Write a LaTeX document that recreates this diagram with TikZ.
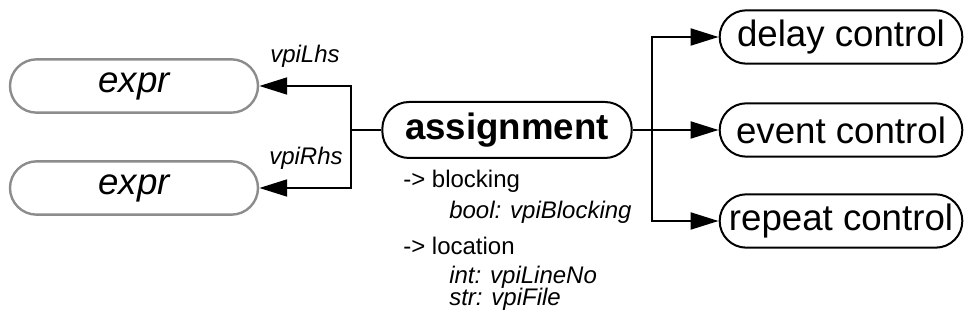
\documentclass[tikz,border=0pt]{standalone}
\usepackage{fontspec}
\setmainfont{Liberation Sans}
\usetikzlibrary{positioning,arrows.meta}

\begin{document}
\begin{tikzpicture}[x=0.75pt,y=-0.75pt,
  objbox/.style={draw,line width=1.5pt,rounded corners=20pt,minimum height=40pt,inner sep=0pt,font=\fontsize{27.5}{30}\selectfont},
  exprbox/.style={objbox,draw=black!45,line width=1.8pt,minimum width=186pt,font=\fontsize{27.5}{30}\selectfont\itshape},
  link/.style={line width=2.2pt,-{Triangle[length=21pt,width=12.5pt]}},
  lbl/.style={font=\fontsize{18}{20}\selectfont\itshape,inner sep=0pt,anchor=base west},
  prop/.style={font=\fontsize{18}{20}\selectfont,inner sep=0pt,anchor=base west}]
\useasboundingbox (0,0) rectangle (968,323);

			\node[exprbox] (lhs) at (134,86) {expr};
			\node[exprbox] (rhs) at (134,188) {expr};
			\node[objbox,minimum width=187pt,minimum height=42pt,font=\fontsize{27.5}{30}\selectfont\bfseries] (assign) at (507,130) {assignment};
			\node[objbox,minimum width=182pt] (delay) at (841,37) {delay control};
			\node[objbox,minimum width=182pt] (event) at (841,130) {event control};
			\node[objbox,minimum width=182pt] (repeat) at (841,221) {repeat control};

			\node[lbl] (lhsname) at (270,63) {vpiLhs};
			\node[lbl] (rhsname) at (269,165) {vpiRhs};

			\node[prop] (blk) at (403,188) {-> blocking};
			\node[prop,font=\fontsize{18}{20}\selectfont\itshape] (blkval) at (449,219) {bool: vpiBlocking};
			\node[prop] (loc) at (403,255) {-> location};
			\node[prop,font=\fontsize{18}{20}\selectfont\itshape] (locline) at (449,284) {int: vpiLineNo};
			\node[prop,font=\fontsize{18}{20}\selectfont\itshape] (locfile) at (449,306) {str: vpiFile};

			% left: lhs and rhs
			\coordinate (lbus) at (351,130);
			\draw[link] (assign.west) -- (lbus) |- (lhs.east);
			\draw[link] (lbus) |- (rhs.east);

			% right: the three controls
			\coordinate (rbus) at (652,130);
			\draw[link] (assign.east) -- (event.west);
			\draw[link] (rbus) |- (delay.west);
			\draw[link] (rbus) |- (repeat.west);
\end{tikzpicture}
\end{document}
